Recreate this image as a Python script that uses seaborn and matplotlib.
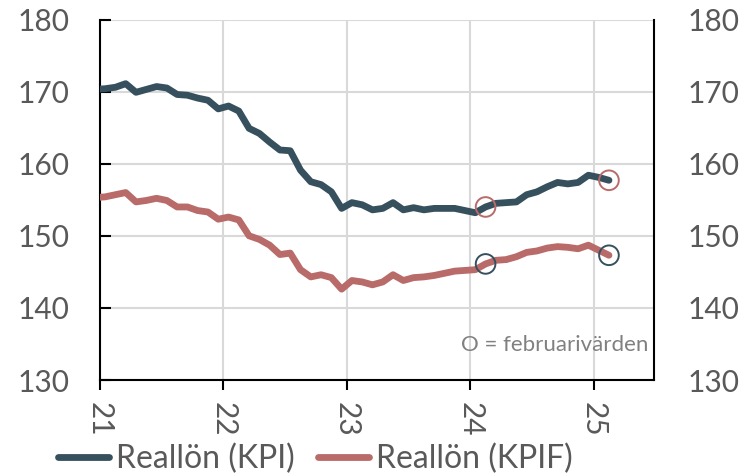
import numpy as np
import pandas as pd
import matplotlib
matplotlib.use("Agg")
import matplotlib.pyplot as plt
import seaborn as sns

# ---- data (monthly, Dec 2020 .. Feb 2025) ----
months = pd.period_range("2020-12", "2025-02", freq="M")
kpi = [170.3,
       170.4, 170.6, 171.1, 169.9, 170.3, 170.7, 170.5, 169.6, 169.5, 169.1, 168.8, 167.6,
       168.0, 167.3, 164.9, 164.2, 163.0, 161.9, 161.8, 159.1, 157.5, 157.1, 156.1, 153.8,
       154.6, 154.3, 153.6, 153.8, 154.6, 153.6, 153.9, 153.6, 153.8, 153.8, 153.8, 153.5,
       153.2, 154.0, 154.5, 154.6, 154.7, 155.7, 156.1, 156.8, 157.4, 157.2, 157.4, 158.4,
       158.1, 157.7]
kpif = [155.3,
        155.4, 155.7, 156.0, 154.7, 154.9, 155.2, 154.9, 154.0, 154.0, 153.5, 153.3, 152.3,
        152.6, 152.2, 150.0, 149.5, 148.7, 147.4, 147.6, 145.3, 144.3, 144.6, 144.2, 142.6,
        143.8, 143.6, 143.2, 143.6, 144.6, 143.8, 144.2, 144.3, 144.5, 144.8, 145.1, 145.2,
        145.3, 146.1, 146.6, 146.7, 147.1, 147.7, 147.9, 148.3, 148.5, 148.4, 148.2, 148.7,
        148.0, 147.3]
series_names = ["Reallön (KPI)", "Reallön (KPIF)"]
yticks = [130, 140, 150, 160, 170, 180]
xticks = [21, 22, 23, 24, 25]
xticklabels = ["21", "22", "23", "24", "25"]
note = "O = februarivärden"

C_KPI = "#36505d"
C_KPIF = "#b86b69"
GREY_TXT = "#595959"

# decimal year (two-digit), mid-month
xpos = np.array([(p.year - 2000) + (p.month - 0.5) / 12 for p in months])
df = pd.DataFrame({"x": np.concatenate([xpos, xpos]),
                   "value": kpi + kpif,
                   "serie": [series_names[0]] * len(xpos) + [series_names[1]] * len(xpos)})
feb = df[[p.month == 2 and p.year >= 2024 for p in months] * 2]

sns.set_theme(style="white")
plt.rcParams["font.family"] = ["Lato", "DejaVu Sans"]

fig = plt.figure(figsize=(7.44, 4.76), dpi=100)
ax = fig.add_axes([100 / 744, 1 - 380 / 476, 554 / 744, 360.5 / 476])

# grid
for xv in xticks:
    ax.axvline(xv, color="#d9d9d9", lw=1.5, zorder=0)
for yv in yticks:
    ax.axhline(yv, color="#d9d9d9", lw=1.5, zorder=0)

sns.lineplot(data=df, x="x", y="value", hue="serie", palette=[C_KPI, C_KPIF],
             linewidth=4.9, ax=ax, legend=False, zorder=3)

# february circles (other series' colour)
f_kpi = feb[feb["serie"] == series_names[0]]
f_kpif = feb[feb["serie"] == series_names[1]]
sns.scatterplot(data=f_kpi, x="x", y="value", ax=ax, s=200, marker="o",
                facecolor="none", edgecolor=C_KPIF, linewidth=1.4, zorder=5)
sns.scatterplot(data=f_kpif, x="x", y="value", ax=ax, s=200, marker="o",
                facecolor="none", edgecolor=C_KPI, linewidth=1.4, zorder=5)

ax.set_xlim(21, 25.49)
ax.set_ylim(130, 180)
ax.set_xlabel("")
ax.set_ylabel("")
ax.set_xticks(xticks)
ax.set_xticklabels(xticklabels, rotation=-90)
ax.set_yticks(yticks)

for s in ["left", "right", "bottom"]:
    ax.spines[s].set_visible(True)
    ax.spines[s].set_color("black")
    ax.spines[s].set_linewidth(1.5)
ax.spines["top"].set_visible(False)

ax.tick_params(axis="y", direction="in", length=8, width=1.5, color="black",
               labelsize=21.5, labelcolor=GREY_TXT, pad=22, left=True, right=True,
               labelleft=True, labelright=False)
ax.tick_params(axis="x", direction="out", length=7.5, width=1.5, color="black",
               labelsize=21.5, labelcolor=GREY_TXT, pad=8, bottom=True)

ax2 = ax.twinx()
ax2.set_ylim(130, 180)
ax2.set_yticks(yticks)
for s in ["left", "right", "bottom", "top"]:
    ax2.spines[s].set_visible(False)
ax2.tick_params(axis="y", length=0, labelsize=21.5, labelcolor=GREY_TXT, pad=24)
ax2.grid(False)

ax.text(0.989, 0.097, note, transform=ax.transAxes, ha="right", va="center",
        fontsize=16, color="#808080")

handles = [plt.Line2D([], [], color=C_KPI, lw=4.9),
           plt.Line2D([], [], color=C_KPIF, lw=4.9)]
fig.legend(handles, series_names, loc="center left", bbox_to_anchor=(58 / 744, 1 - 459 / 476),
           ncol=2, frameon=False, fontsize=23, labelcolor=GREY_TXT, handlelength=1.6,
           handletextpad=0.2, columnspacing=0.75, borderpad=0, borderaxespad=0)

fig.savefig("out.png", dpi=100)
